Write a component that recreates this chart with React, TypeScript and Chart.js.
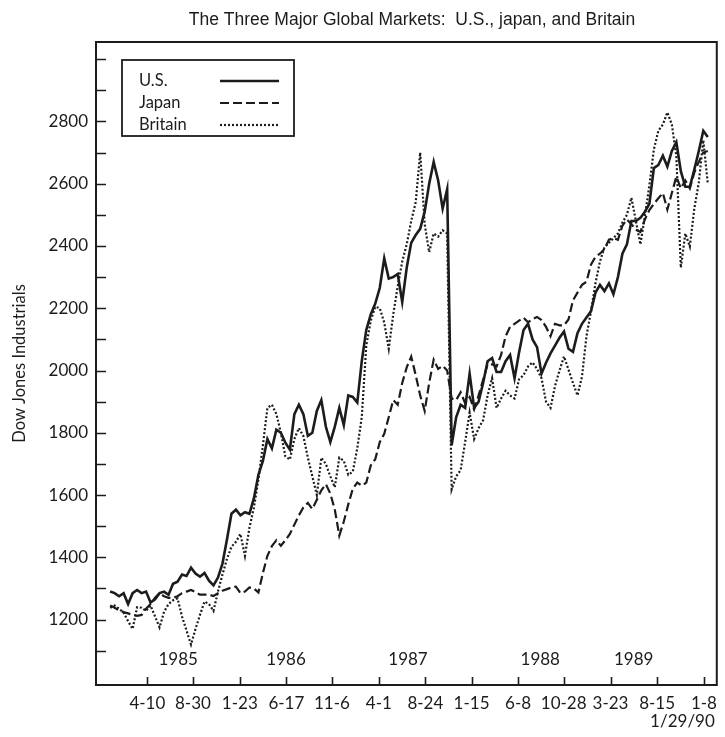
import React, { useEffect, useRef } from "react";
import { Chart, registerables } from "chart.js";
Chart.register(...registerables);

const TITLE = "The Three Major Global Markets:  U.S., japan, and Britain";
const Y_TITLE = "Dow Jones Industrials";
const END_NOTE = "1/29/90";
const SERIES_NAMES = ["U.S.", "Japan", "Britain"];

const START_DATE = "1984-12-15";
const STEP_DAYS = 14;

const US = [1290,1285,1275,1285,1250,1285,1295,1285,1290,1255,
 1265,1285,1290,1280,1315,1322,1345,1340,1367,1348,
 1338,1350,1325,1310,1335,1380,1457,1540,1553,1535,
 1545,1540,1590,1665,1710,1780,1750,1810,1800,1768,
 1746,1860,1890,1860,1790,1800,1870,1905,1820,1770,
 1820,1880,1825,1920,1915,1897,2030,2130,2180,2215,
 2265,2360,2295,2300,2310,2220,2330,2410,2435,2455,
 2510,2600,2670,2610,2520,2582,1760,1850,1890,1880,
 1990,1880,1900,1960,2030,2040,1995,1995,2030,2050,
 1975,2058,2130,2150,2100,2075,1990,2025,2055,2080,
 2105,2125,2070,2060,2120,2150,2170,2190,2250,2275,
 2255,2280,2245,2300,2375,2405,2480,2480,2490,2510,
 2535,2650,2660,2690,2655,2705,2733,2640,2590,2590,
 2645,2705,2770,2750];

const JAPAN = [1245,1238,1230,1224,1220,1215,1212,1215,1235,1250,
 1270,1285,1275,1270,1270,1275,1285,1290,1295,1288,
 1280,1280,1280,1276,1285,1293,1298,1303,1306,1285,
 1290,1303,1300,1287,1350,1405,1436,1455,1437,1455,
 1475,1505,1535,1560,1575,1555,1585,1615,1635,1605,
 1553,1470,1515,1570,1620,1640,1630,1640,1695,1715,
 1770,1797,1850,1905,1890,1960,2010,2045,1985,1920,
 1870,1960,2035,2005,2015,2000,1910,1905,1930,1895,
 1915,1875,1920,1970,2020,2020,2013,2050,2110,2140,
 2150,2160,2170,2155,2165,2172,2162,2140,2110,2150,
 2145,2145,2164,2225,2250,2275,2285,2340,2365,2375,
 2390,2420,2425,2420,2465,2485,2470,2452,2445,2485,
 2515,2535,2553,2570,2517,2570,2623,2585,2610,2585,
 2636,2670,2700,2705];

const BRITAIN = [1238,1245,1235,1222,1195,1170,1240,1238,1228,1245,
 1210,1175,1225,1250,1262,1268,1210,1165,1120,1170,
 1215,1258,1250,1228,1290,1345,1395,1434,1450,1475,
 1405,1495,1560,1650,1760,1880,1890,1860,1800,1724,
 1714,1780,1815,1790,1720,1660,1600,1720,1700,1660,
 1625,1720,1710,1665,1675,1750,1850,2080,2160,2205,
 2200,2154,2070,2180,2270,2350,2405,2480,2540,2700,
 2470,2380,2440,2430,2450,2440,1618,1660,1680,1770,
 1865,1780,1815,1840,1920,1975,1880,1910,1935,1920,
 1910,1972,1985,2013,2026,2005,1975,1900,1880,1950,
 2000,2045,2003,1960,1920,1980,2110,2190,2280,2350,
 2395,2410,2425,2440,2475,2500,2555,2480,2405,2495,
 2595,2710,2770,2790,2829,2790,2688,2330,2440,2398,
 2520,2604,2740,2600];

const TICK_DATES = ["1985-04-10","1985-08-30","1986-01-23","1986-06-17","1986-11-06","1987-04-01","1987-08-24","1988-01-15","1988-06-08","1988-10-28","1989-03-23","1989-08-15","1990-01-08"];
const TICK_LABELS = ["4-10","8-30","1-23","6-17","11-6","4-1","8-24","1-15","6-8","10-28","3-23","8-15","1-8"];
const YEAR_LABELS = ["1985","1986","1987","1988","1989"];
const YEAR_DATES = ["1985-07-15","1986-06-16","1987-07-01","1988-08-16","1989-06-03"];
const X_MIN_DATE = "1984-11-01";
const X_MAX_DATE = "1990-02-17";
const Y_MIN = 990;
const Y_MAX = 3055;

const INK = "#1c1c1c";
const FONT = "Lato, 'Open Sans', sans-serif";

const dayOf = (s: string) => (Date.parse(s) - Date.parse("1985-01-01")) / 86400000;

const toPoints = (vals: number[]) =>
  vals.map((v, i) => ({ x: dayOf(START_DATE) + i * STEP_DAYS, y: v }));

const decor = {
  id: "decor",
  afterDraw(chart: any) {
    const { ctx, chartArea: a, scales } = chart;
    const x = scales.x;
    const y = scales.y;
    ctx.save();
    ctx.strokeStyle = INK;
    ctx.fillStyle = INK;
    ctx.lineWidth = 2;
    ctx.strokeRect(a.left, a.top, a.right - a.left, a.bottom - a.top);
    ctx.lineWidth = 1.6;
    ctx.beginPath();
    TICK_DATES.forEach((d) => {
      const px = Math.round(x.getPixelForValue(dayOf(d))) + 0.5;
      ctx.moveTo(px, a.bottom);
      ctx.lineTo(px, a.bottom - 8);
    });
    for (let v = 1100; v <= 3000; v += 100) {
      const py = Math.round(y.getPixelForValue(v)) + 0.5;
      ctx.moveTo(a.left, py);
      ctx.lineTo(a.left + 10, py);
    }
    ctx.stroke();

    ctx.font = `17px ${FONT}`;
    ctx.textAlign = "center";
    ctx.textBaseline = "middle";
    YEAR_LABELS.forEach((t, i) => {
      ctx.fillText(t, x.getPixelForValue(dayOf(YEAR_DATES[i])), a.bottom - 25);
    });
    ctx.textAlign = "right";
    ctx.fillText(END_NOTE, a.right - 2, a.bottom + 37);

    ctx.font = "17.5px 'Liberation Sans', Arial, sans-serif";
    ctx.textAlign = "center";
    ctx.fillText(TITLE, 412, 20);

    // legend
    const lx = 122, ly = 60, lw = 172, lh = 76;
    ctx.fillStyle = "#fff";
    ctx.fillRect(lx, ly, lw, lh);
    ctx.fillStyle = INK;
    ctx.lineWidth = 1.8;
    ctx.strokeRect(lx, ly, lw, lh);
    ctx.font = `16.5px ${FONT}`;
    ctx.textAlign = "left";
    const dashes = [[], [9, 4], [2, 2]];
    const widths = [2.6, 2.2, 2.2];
    SERIES_NAMES.forEach((n, i) => {
      const ry = ly + 21 + i * 22;
      ctx.fillText(n, lx + 17, ry);
      ctx.setLineDash(dashes[i]);
      ctx.lineWidth = widths[i];
      ctx.beginPath();
      ctx.moveTo(lx + 98, ry);
      ctx.lineTo(lx + 157, ry);
      ctx.stroke();
    });
    ctx.setLineDash([]);
    ctx.restore();
  },
};

export default function App() {
  const ref = useRef<HTMLCanvasElement | null>(null);
  useEffect(() => {
    document.body.style.margin = "0";
    document.body.style.background = "#fff";
    const canvas = ref.current!;
    const chart = new Chart(canvas, {
      type: "line",
      data: {
        datasets: [
          { label: SERIES_NAMES[0], data: toPoints(US), borderColor: INK, borderWidth: 2.6, pointRadius: 0, tension: 0 },
          { label: SERIES_NAMES[1], data: toPoints(JAPAN), borderColor: INK, borderWidth: 2.2, borderDash: [9, 4], pointRadius: 0, tension: 0 },
          { label: SERIES_NAMES[2], data: toPoints(BRITAIN), borderColor: INK, borderWidth: 2.2, borderDash: [2, 2], pointRadius: 0, tension: 0 },
        ],
      },
      options: {
        animation: false,
        responsive: false,
        maintainAspectRatio: false,
        parsing: false as any,
        layout: { padding: { top: 42, right: 2, left: 0, bottom: 0 } },
        plugins: { legend: { display: false }, title: { display: false }, tooltip: { enabled: false } },
        scales: {
          x: {
            type: "linear",
            min: dayOf(X_MIN_DATE),
            max: dayOf(X_MAX_DATE),
            grid: { display: false, drawTicks: false },
            border: { display: false },
            afterBuildTicks: (s: any) => {
              s.ticks = TICK_DATES.map((d) => ({ value: dayOf(d) }));
            },
            afterFit: (s: any) => { s.height = 52; },
            ticks: {
              autoSkip: false,
              maxRotation: 0,
              padding: 8,
              color: INK,
              font: { family: FONT, size: 17 },
              callback: (v: any, i: number) => TICK_LABELS[i],
            },
          },
          y: {
            min: Y_MIN,
            max: Y_MAX,
            grid: { display: false, drawTicks: false },
            border: { display: false },
            afterBuildTicks: (s: any) => {
              const t = [];
              for (let v = 1200; v <= 2800; v += 200) t.push({ value: v });
              s.ticks = t;
            },
            afterFit: (s: any) => { s.width = 96; },
            title: {
              display: true,
              text: Y_TITLE,
              color: INK,
              font: { family: FONT, size: 16.5 },
              padding: { top: 10, bottom: 0 },
            },
            ticks: {
              padding: 8,
              color: INK,
              font: { family: FONT, size: 17 },
              callback: (v: any) => String(v),
            },
          },
        },
      },
      plugins: [decor],
    });
    return () => chart.destroy();
  }, []);
  return (
    <div style={{ width: 725, height: 737, background: "#fff" }}>
      <canvas ref={ref} width={725} height={737} style={{ display: "block" }} />
    </div>
  );
}
